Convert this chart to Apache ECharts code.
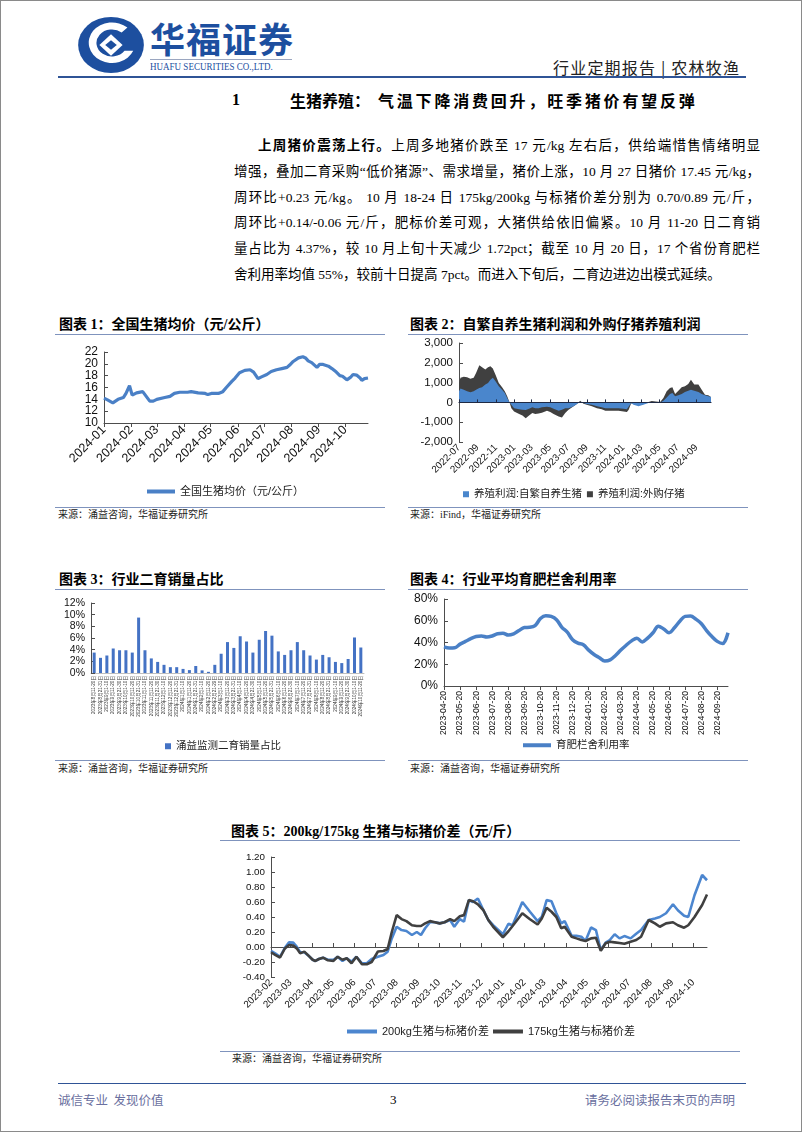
<!DOCTYPE html>
<html><head><meta charset="utf-8">
<script src="https://cdn.jsdelivr.net/npm/echarts@6/dist/echarts.min.js"></script>
<style>
html,body{margin:0;padding:0;background:#fff;}
#page{position:relative;width:802px;height:1133px;overflow:hidden;font-family:"Liberation Serif","Noto Sans CJK SC",serif;color:#000;}
#frame{position:absolute;left:0;top:0;width:800px;height:1130px;border:1px solid #8a8a8a;}
#chart{position:absolute;left:0;top:0;width:802px;height:1133px;z-index:2;}
.t{position:absolute;white-space:nowrap;}
.ln{position:absolute;height:0;}
.pl{position:absolute;left:234px;width:526px;height:22px;line-height:22px;font-size:13.5px;text-align:justify;text-align-last:justify;}
.ttl{position:absolute;font-size:14px;font-weight:bold;line-height:18px;white-space:nowrap;font-family:"Liberation Serif","Noto Sans CJK SC",serif;}
.src{position:absolute;font-size:10px;line-height:12px;color:#222;white-space:nowrap;}
.uline{position:absolute;height:0;border-top:1.5px solid #7f93bd;}
</style></head>
<body>
<div id="page">
<div id="frame"></div>
<!-- header -->
<svg style="position:absolute;left:76px;top:16px" width="70" height="58" viewBox="0 0 70 60">
  <ellipse cx="35" cy="30" rx="34" ry="29" fill="#1d4f9f"/>
  <path d="M52 12 A24 21 0 1 0 58 36 L49 36 A16 14 0 1 1 46 17 Z" fill="#fff"/>
  <path d="M35 19 L47 30 L35 41 L23 30 Z" fill="#fff"/>
  <path d="M35 25 L41 30 L35 35 L29 30 Z" fill="#1d4f9f"/>
</svg>
<div class="t" style="left:150px;top:18px;font-size:35px;line-height:40px;font-weight:bold;color:#1d4f9f;font-family:'Noto Sans CJK SC';letter-spacing:1px;">华福证券</div>
<div class="ln" style="left:150px;top:59px;width:142px;border-top:1px solid #9aa6c0;"></div>
<div class="t" style="left:150px;top:61px;font-size:10.5px;line-height:12px;color:#1d4f9f;font-family:'Liberation Serif';transform:scaleX(0.86);transform-origin:left top;">HUAFU SECURITIES CO.,LTD.</div>
<div class="t" style="left:553px;top:57px;font-size:16px;line-height:20px;color:#222;font-family:'Noto Sans CJK SC';letter-spacing:1.2px;">行业定期报告 | 农林牧渔</div>
<div class="ln" style="left:58px;top:76px;width:688px;border-top:2px solid #2f5496;"></div>

<!-- heading -->
<div class="t" style="left:232px;top:90px;font-size:16px;line-height:20px;font-weight:bold;font-family:'Liberation Serif';">1</div>
<div class="t" style="left:290px;top:90px;font-size:16px;line-height:20px;font-weight:bold;font-family:'Noto Sans CJK SC';">生猪养殖：</div>
<div class="t" style="left:378px;top:90px;font-size:16px;line-height:20px;font-weight:bold;font-family:'Noto Sans CJK SC';letter-spacing:2.8px;">气温下降消费回升，旺季猪价有望反弹</div>

<!-- paragraph -->
<div class="pl" style="left:258px;width:502px;top:135px;"><b>上周猪价震荡上行。</b>上周多地猪价跌至 17 元/kg 左右后，供给端惜售情绪明显</div>
<div class="pl" style="top:161px;">增强，叠加二育采购“低价猪源”、需求增量，猪价上涨，10 月 27 日猪价 17.45 元/kg，</div>
<div class="pl" style="top:187px;">周环比+0.23 元/kg。 10 月 18-24 日 175kg/200kg 与标猪价差分别为 0.70/0.89 元/斤，</div>
<div class="pl" style="top:212px;">周环比+0.14/-0.06 元/斤，肥标价差可观，大猪供给依旧偏紧。10 月 11-20 日二育销</div>
<div class="pl" style="top:238px;">量占比为 4.37%，较 10 月上旬十天减少 1.72pct；截至 10 月 20 日，17 个省份育肥栏</div>
<div class="pl" style="top:264px;text-align:left;text-align-last:left;">舍利用率均值 55%，较前十日提高 7pct。而进入下旬后，二育边进边出模式延续。</div>

<!-- chart titles -->
<div class="ttl" style="left:59px;top:316px;">图表 1：全国生猪均价（元/公斤）</div>
<div class="uline" style="left:55px;top:334px;width:330px;"></div>
<div class="ttl" style="left:410px;top:316px;">图表 2：自繁自养生猪利润和外购仔猪养殖利润</div>
<div class="uline" style="left:408px;top:334px;width:340px;"></div>
<div class="uline" style="left:55px;top:507px;width:330px;"></div>
<div class="src" style="left:58px;top:509px;">来源：涌益咨询，华福证券研究所</div>
<div class="uline" style="left:408px;top:507px;width:340px;"></div>
<div class="src" style="left:410px;top:509px;">来源：iFind，华福证券研究所</div>

<div class="ttl" style="left:59px;top:571px;">图表 3：行业二育销量占比</div>
<div class="uline" style="left:55px;top:589px;width:330px;"></div>
<div class="ttl" style="left:410px;top:571px;">图表 4：行业平均育肥栏舍利用率</div>
<div class="uline" style="left:408px;top:589px;width:340px;"></div>
<div class="uline" style="left:55px;top:760px;width:330px;"></div>
<div class="src" style="left:58px;top:763px;">来源：涌益咨询，华福证券研究所</div>
<div class="uline" style="left:408px;top:760px;width:340px;"></div>
<div class="src" style="left:410px;top:763px;">来源：涌益咨询，华福证券研究所</div>

<div class="ttl" style="left:231px;top:823px;">图表 5：200kg/175kg 生猪与标猪价差（元/斤）</div>
<div class="uline" style="left:220px;top:840px;width:520px;"></div>
<div class="uline" style="left:220px;top:1051px;width:520px;"></div>
<div class="src" style="left:232px;top:1053px;">来源：涌益咨询，华福证券研究所</div>

<!-- footer -->
<div class="ln" style="left:58px;top:1083px;width:688px;border-top:1.5px solid #2f5496;"></div>
<div class="t" style="left:58px;top:1092px;font-size:12.5px;line-height:16px;color:#6a70a0;font-family:'Noto Sans CJK SC';">诚信专业&nbsp;&nbsp;发现价值</div>
<div class="t" style="left:390px;top:1092px;font-size:13px;line-height:16px;color:#000;font-family:'Liberation Serif';">3</div>
<div class="t" style="left:585px;top:1092px;font-size:12.5px;line-height:16px;color:#6a70a0;font-family:'Noto Sans CJK SC';">请务必阅读报告末页的声明</div>

<div id="chart"></div>
</div>
<script>
// ---------- Chart 1: 全国生猪均价 ----------
const pigDates = ['2024-01-01','2024-01-05','2024-01-11','2024-01-17','2024-01-23','2024-01-26','2024-01-30','2024-02-02','2024-02-07','2024-02-14','2024-02-18','2024-02-22','2024-02-26','2024-03-01','2024-03-10','2024-03-16','2024-03-21','2024-03-27','2024-04-05','2024-04-09','2024-04-17','2024-04-25','2024-04-28','2024-05-02','2024-05-10','2024-05-15','2024-05-19','2024-05-25','2024-05-29','2024-06-03','2024-06-09','2024-06-15','2024-06-19','2024-06-24','2024-06-28','2024-07-04','2024-07-09','2024-07-15','2024-07-21','2024-07-27','2024-07-30','2024-08-03','2024-08-09','2024-08-14','2024-08-17','2024-08-20','2024-08-24','2024-08-30','2024-09-02','2024-09-06','2024-09-12','2024-09-16','2024-09-21','2024-09-25','2024-09-28','2024-10-03','2024-10-07','2024-10-10','2024-10-14','2024-10-18','2024-10-20','2024-10-23','2024-10-27'];
const pigPrice = [14.2,13.9,13.4,14.0,14.3,15.0,16.3,14.7,15.1,15.3,14.5,13.7,13.7,14.0,14.3,14.5,15.0,15.2,15.2,15.3,15.1,15.0,14.8,15.0,15.0,15.3,16.0,17.0,17.6,18.5,18.9,19.0,18.6,17.5,17.8,18.2,18.7,19.0,19.2,19.4,19.8,20.4,21.0,21.2,21.0,20.5,20.2,19.4,19.9,19.9,19.6,19.2,18.6,18.0,17.9,17.3,17.7,18.2,18.1,17.6,17.2,17.5,17.6];
const ticks1 = ['2024-01','2024-02','2024-03','2024-04','2024-05','2024-06','2024-07','2024-08','2024-09','2024-10'];

// ---------- Chart 2: 养殖利润 ----------
const profitDates = ['2022-07-01','2022-07-06','2022-07-17','2022-07-28','2022-08-08','2022-08-19','2022-08-27','2022-09-07','2022-09-16','2022-09-27','2022-10-06','2022-10-14','2022-10-22','2022-10-31','2022-11-11','2022-11-22','2022-12-01','2022-12-09','2022-12-17','2022-12-23','2023-01-01','2023-01-18','2023-01-29','2023-02-09','2023-02-20','2023-03-03','2023-03-13','2023-03-24','2023-04-04','2023-04-21','2023-05-02','2023-05-13','2023-05-30','2023-06-10','2023-06-21','2023-07-02','2023-07-19','2023-07-30','2023-08-10','2023-08-21','2023-09-01','2023-09-18','2023-10-05','2023-10-21','2023-11-02','2023-11-24','2023-12-16','2024-01-02','2024-01-13','2024-01-19','2024-01-27','2024-02-04','2024-02-21','2024-03-08','2024-03-25','2024-04-05','2024-04-19','2024-05-03','2024-05-14','2024-05-25','2024-06-05','2024-06-13','2024-06-22','2024-07-03','2024-07-14','2024-07-25','2024-08-05','2024-08-14','2024-08-25','2024-09-08','2024-09-19','2024-09-30','2024-10-11','2024-10-20'];
const profitSelf = [560,700,645,560,510,560,645,730,760,900,980,1150,1240,1070,810,645,475,220,0,-120,-290,-340,-370,-390,-320,-250,-290,-290,-250,-220,-250,-320,-420,-370,-290,-290,-200,-85,17,-34,-85,-120,-200,-240,-290,-290,-290,-320,-340,-290,-30,-120,-200,-120,-35,15,15,0,85,250,420,475,305,355,420,525,590,645,590,525,420,355,305,270];
const profitPiglet = [983,1240,1290,1270,1200,1240,1490,1880,1780,1660,1780,1830,1710,1400,980,760,560,305,0,-290,-460,-590,-660,-800,-660,-540,-590,-560,-525,-420,-490,-590,-710,-760,-540,-370,-200,-85,85,-70,-120,-200,-290,-340,-420,-420,-420,-460,-490,-370,-50,-60,-120,-80,15,70,50,15,220,560,730,760,420,590,760,810,930,1150,900,900,645,390,355,270];
const ticks2 = ['2022-07','2022-09','2022-11','2023-01','2023-03','2023-05','2023-07','2023-09','2023-11','2024-01','2024-03','2024-05','2024-07','2024-09'];

// ---------- Chart 3: 二育销量占比 ----------
const shareLabels = ['2023年8月11-20日','2023年8月21-31日','2023年9月1-10日','2023年9月11-20日','2023年9月21-30日','2023年10月1-10日','2023年10月11-20日','2023年10月21-31日','2023年11月1-10日','2023年11月11-20日','2023年11月21-30日','2023年12月1-10日','2023年12月11-20日','2023年12月21-31日','2024年1月1-10日','2024年1月11-20日','2024年1月21-31日','2024年2月1-10日','2024年2月11-20日','2024年2月21-29日','2024年3月1-10日','2024年3月11-20日','2024年3月21-31日','2024年4月1-10日','2024年4月11-20日','2024年4月21-30日','2024年5月1-10日','2024年5月11-20日','2024年5月21-31日','2024年6月1-10日','2024年6月11-20日','2024年6月21-30日','2024年7月1-10日','2024年7月11-20日','2024年7月21-31日','2024年8月1-10日','2024年8月11-20日','2024年8月21-31日','2024年9月1-10日','2024年9月11-20日','2024年9月21-30日','2024年10月1-10日','2024年10月11-20日'];
const shareValues = [3.5,2.6,3.0,4.2,3.9,3.9,3.5,9.5,3.9,2.5,1.9,1.4,1.0,1.0,0.7,0.5,1.2,0.45,0.2,1.4,3.3,5.3,4.3,6.3,5.4,3.5,5.7,7.2,6.4,3.7,3.1,3.9,5.3,3.9,3.0,2.3,3.1,2.7,1.9,1.7,2.4,6.09,4.37];

// ---------- Chart 4: 育肥栏舍利用率 ----------
const occDates = ['2023-04-20','2023-04-30','2023-05-10','2023-05-20','2023-05-30','2023-06-10','2023-06-20','2023-06-30','2023-07-10','2023-07-20','2023-07-30','2023-08-10','2023-08-20','2023-08-30','2023-09-10','2023-09-20','2023-09-30','2023-10-10','2023-10-20','2023-10-30','2023-11-10','2023-11-20','2023-11-30','2023-12-10','2023-12-20','2023-12-30','2024-01-10','2024-01-20','2024-01-30','2024-02-10','2024-02-20','2024-02-29','2024-03-10','2024-03-20','2024-03-30','2024-04-10','2024-04-20','2024-04-30','2024-05-10','2024-05-20','2024-05-30','2024-06-10','2024-06-20','2024-06-30','2024-07-10','2024-07-20','2024-07-30','2024-08-10','2024-08-20','2024-08-30','2024-09-10','2024-09-20','2024-09-30','2024-10-10'];
const occValues = [36,35,35.2,38.5,41,43.5,45.5,46,45,46,48,48.6,46.8,48,51,53.8,54,55.5,62,64.6,64,61,54,49.5,42.5,39.4,38,33,29,26,23,24,28,33,37.5,41.5,44,40.5,44,49,55,52.5,49,53.5,59.5,64,64.3,61.5,57.5,51,45.5,41,39,49];

// ---------- Chart 5: 价差 ----------
const spreadDates = ['2023-02-01','2023-02-07','2023-02-14','2023-02-21','2023-02-27','2023-03-05','2023-03-10','2023-03-15','2023-03-21','2023-03-27','2023-04-02','2023-04-06','2023-04-11','2023-04-17','2023-04-24','2023-05-02','2023-05-08','2023-05-15','2023-05-21','2023-05-28','2023-06-04','2023-06-12','2023-06-19','2023-06-26','2023-07-05','2023-07-13','2023-07-19','2023-07-25','2023-08-01','2023-08-08','2023-08-15','2023-08-23','2023-08-30','2023-09-05','2023-09-11','2023-09-18','2023-09-25','2023-10-02','2023-10-09','2023-10-17','2023-10-23','2023-10-31','2023-11-06','2023-11-13','2023-11-19','2023-11-26','2023-12-04','2023-12-11','2023-12-18','2024-01-01','2024-01-09','2024-01-15','2024-01-29','2024-02-09','2024-02-20','2024-02-26','2024-03-04','2024-03-11','2024-03-18','2024-03-25','2024-03-30','2024-04-09','2024-04-16','2024-04-23','2024-04-29','2024-05-07','2024-05-14','2024-05-21','2024-05-28','2024-06-03','2024-06-10','2024-06-17','2024-06-24','2024-07-03','2024-07-11','2024-07-18','2024-07-29','2024-08-07','2024-08-14','2024-08-23','2024-09-02','2024-09-09','2024-09-18','2024-09-24','2024-10-03','2024-10-14','2024-10-21'];
const spread200 = [-0.053,-0.085,-0.13,-0.01,0.062,0.058,0.004,-0.07,-0.07,-0.115,-0.17,-0.186,-0.16,-0.142,-0.17,-0.17,-0.13,-0.186,-0.15,-0.195,-0.13,-0.217,-0.217,-0.16,-0.13,-0.106,-0.062,0.115,0.27,0.226,0.213,0.16,0.2,0.16,0.25,0.33,0.33,0.315,0.33,0.36,0.27,0.372,0.337,0.625,0.6,0.647,0.49,0.36,0.29,0.17,0.31,0.29,0.6,0.47,0.346,0.4,0.625,0.61,0.45,0.315,0.346,0.15,0.15,0.137,0.08,0.26,0.226,-0.04,0.058,0.093,0.17,0.115,0.146,0.115,0.177,0.226,0.36,0.38,0.4,0.45,0.57,0.49,0.417,0.4,0.69,0.96,0.89];
const spread175 = [-0.07,-0.105,-0.14,-0.02,0.027,0.018,-0.018,-0.085,-0.062,-0.115,-0.17,-0.186,-0.16,-0.142,-0.177,-0.186,-0.13,-0.17,-0.15,-0.217,-0.13,-0.23,-0.23,-0.2,-0.06,-0.053,-0.027,0.2,0.425,0.372,0.345,0.29,0.28,0.28,0.315,0.345,0.33,0.315,0.33,0.372,0.345,0.41,0.425,0.625,0.61,0.568,0.49,0.36,0.27,0.13,0.21,0.28,0.45,0.37,0.3,0.38,0.523,0.47,0.4,0.25,0.27,0.137,0.115,0.093,0.08,0.115,0.124,-0.05,0.05,0.071,0.062,0.053,0.044,0.071,0.093,0.137,0.36,0.315,0.27,0.315,0.33,0.29,0.257,0.29,0.4,0.56,0.70];
const ticks5 = ['2023-02','2023-03','2023-04','2023-05','2023-06','2023-07','2023-08','2023-09','2023-10','2023-11','2023-12','2024-01','2024-02','2024-03','2024-04','2024-05','2024-06','2024-07','2024-08','2024-09','2024-10'];

// ---------- helpers ----------
function ts(s){const p=s.split('-').map(Number);return new Date(p[0],p[1]-1,p[2]||1).getTime();}
function ym(v){const d=new Date(v);return d.getFullYear()+'-'+String(d.getMonth()+1).padStart(2,'0');}
function pairs(ds,vs){return ds.map((d,i)=>[ts(d),vs[i]]);}
const LF = 'Liberation Sans';
const CJK = '"Liberation Sans","Noto Sans CJK SC"';
const AX = '#4d4d4d';
const BLUE = '#4a80c6';
const DARK = '#404040';

const yBase = (gi,min,max,itv,fmt,fs)=>({type:'value',gridIndex:gi,min:min,max:max,interval:itv,
  axisLine:{show:true,lineStyle:{color:AX,width:1}},axisTick:{show:true,inside:true,length:4,lineStyle:{color:AX}},
  splitLine:{show:false},axisLabel:{formatter:fmt,fontSize:fs,color:'#111',fontFamily:LF,margin:6}});

// date x-axis drawn as a value axis of timestamps with explicit month ticks
const dateAxis = (gi,minD,maxD,tickList,extra)=>Object.assign({type:'value',gridIndex:gi,min:ts(minD),max:ts(maxD),
  splitLine:{show:false}},extra(tickList.map(ts)));

const option = {
  animation:false,
  grid:[
    {left:104,top:352,width:264,height:71,outerBoundsMode:'none'},
    {left:459,top:343,width:252,height:99,outerBoundsMode:'none'},
    {left:91,top:603,width:273,height:70,outerBoundsMode:'none'},
    {left:444,top:599,width:284,height:87,outerBoundsMode:'none'},
    {left:271,top:857,width:436,height:120,outerBoundsMode:'none'}
  ],
  xAxis:[
    dateAxis(0,'2024-01-01','2024-10-27',ticks1,cv=>({
      axisLine:{show:true,onZero:false,lineStyle:{color:AX}},
      axisTick:{show:true,customValues:cv,length:4,lineStyle:{color:AX}},
      axisLabel:{customValues:cv,formatter:ym,rotate:45,fontSize:12.5,color:'#111',fontFamily:LF,margin:5}})),
    dateAxis(1,'2022-07-01','2024-10-20',ticks2,cv=>({position:'bottom',
      axisLine:{show:false,onZero:false},axisTick:{show:false},
      axisLabel:{customValues:cv,formatter:ym,rotate:45,fontSize:9.8,color:'#111',fontFamily:LF,margin:4}})),
    dateAxis(1,'2022-07-01','2024-10-20',ticks2,cv=>({position:'bottom',z:5,
      axisLine:{show:true,onZero:true,lineStyle:{color:'#1f2a44',width:1.2}},
      axisTick:{show:true,inside:true,length:3,customValues:cv,lineStyle:{color:'#1f2a44'}},
      axisLabel:{show:false}})),
    {type:'category',gridIndex:2,data:shareLabels,boundaryGap:true,
     axisLine:{show:true,lineStyle:{color:'#bfbfbf'}},axisTick:{show:false},
     axisLabel:{interval:0,rotate:90,fontSize:4.6,color:'#333',fontFamily:CJK,margin:3}},
    {type:'category',gridIndex:3,data:occDates,boundaryGap:false,
     axisLine:{show:true,lineStyle:{color:AX}},axisTick:{show:true,interval:2,length:4,lineStyle:{color:AX}},
     axisLabel:{interval:2,rotate:90,fontSize:8.6,color:'#111',fontFamily:LF,margin:5}},
    dateAxis(4,'2023-02-01','2024-10-21',ticks5,cv=>({position:'bottom',
      axisLine:{show:false,onZero:false},axisTick:{show:false},
      axisLabel:{customValues:cv,formatter:ym,rotate:45,fontSize:9.8,color:'#111',fontFamily:LF,margin:4}})),
    dateAxis(4,'2023-02-01','2024-10-21',ticks5,cv=>({position:'bottom',z:1,
      axisLine:{show:true,onZero:true,lineStyle:{color:AX,width:1}},
      axisTick:{show:true,inside:true,length:4,customValues:cv,lineStyle:{color:AX}},
      axisLabel:{show:false}}))
  ],
  yAxis:[
    yBase(0,10,22,2,null,12),
    yBase(1,-2000,3000,1000,v=>echarts.format.addCommas(v),11.5),
    yBase(2,0,12,2,'{value}%',10.5),
    yBase(3,0,80,20,'{value}%',12),
    yBase(4,-0.4,1.2,0.2,v=>v.toFixed(2),9.8)
  ],
  legend:[
    {left:142,top:481,data:['全国生猪均价（元/公斤）'],icon:'rect',itemWidth:28,itemHeight:4,
     textStyle:{fontSize:11,fontFamily:CJK,color:'#222'}},
    {left:458,top:484,data:['养殖利润:自繁自养生猪','养殖利润:外购仔猪'],icon:'rect',itemWidth:6,itemHeight:6,itemGap:5,
     textStyle:{fontSize:10.5,fontFamily:CJK,color:'#222'}},
    {left:160,top:736,data:['涌益监测二育销量占比'],icon:'rect',itemWidth:6,itemHeight:6,
     textStyle:{fontSize:10.5,fontFamily:CJK,color:'#222'}},
    {left:518,top:735,data:['育肥栏舍利用率'],icon:'rect',itemWidth:28,itemHeight:4,
     textStyle:{fontSize:10.5,fontFamily:CJK,color:'#222'}},
    {left:342,top:1021,data:['200kg生猪与标猪价差','175kg生猪与标猪价差'],icon:'rect',itemWidth:30,itemHeight:4,itemGap:4,
     textStyle:{fontSize:11,fontFamily:CJK,color:'#222'}}
  ],
  series:[
    {name:'全国生猪均价（元/公斤）',type:'line',xAxisIndex:0,yAxisIndex:0,data:pairs(pigDates,pigPrice),
     showSymbol:false,symbol:'none',lineStyle:{color:BLUE,width:3.2},itemStyle:{color:BLUE}},
    {name:'养殖利润:外购仔猪',type:'line',xAxisIndex:1,yAxisIndex:1,data:pairs(profitDates,profitPiglet),
     symbol:'none',lineStyle:{width:0},areaStyle:{color:DARK,opacity:1},itemStyle:{color:DARK}},
    {name:'养殖利润:自繁自养生猪',type:'line',xAxisIndex:1,yAxisIndex:1,data:pairs(profitDates,profitSelf),
     symbol:'none',lineStyle:{width:0},areaStyle:{color:'#4a86cc',opacity:1},itemStyle:{color:'#4a86cc'}},
    {name:'涌益监测二育销量占比',type:'bar',xAxisIndex:3,yAxisIndex:2,data:shareValues,barWidth:3,
     itemStyle:{color:'#4472c4'}},
    {name:'育肥栏舍利用率',type:'line',xAxisIndex:4,yAxisIndex:3,data:occValues,smooth:0.35,
     symbol:'none',lineStyle:{color:BLUE,width:3.5},itemStyle:{color:BLUE}},
    {name:'200kg生猪与标猪价差',type:'line',xAxisIndex:5,yAxisIndex:4,data:pairs(spreadDates,spread200),
     symbol:'none',lineStyle:{color:'#4c86cf',width:2.6},itemStyle:{color:'#4c86cf'},z:3},
    {name:'175kg生猪与标猪价差',type:'line',xAxisIndex:5,yAxisIndex:4,data:pairs(spreadDates,spread175),
     symbol:'none',lineStyle:{color:DARK,width:2.6},itemStyle:{color:DARK},z:4}
  ]
};
const chart = echarts.init(document.getElementById('chart'), null, {renderer:'canvas'});
chart.setOption(option);
</script>
</body></html>
